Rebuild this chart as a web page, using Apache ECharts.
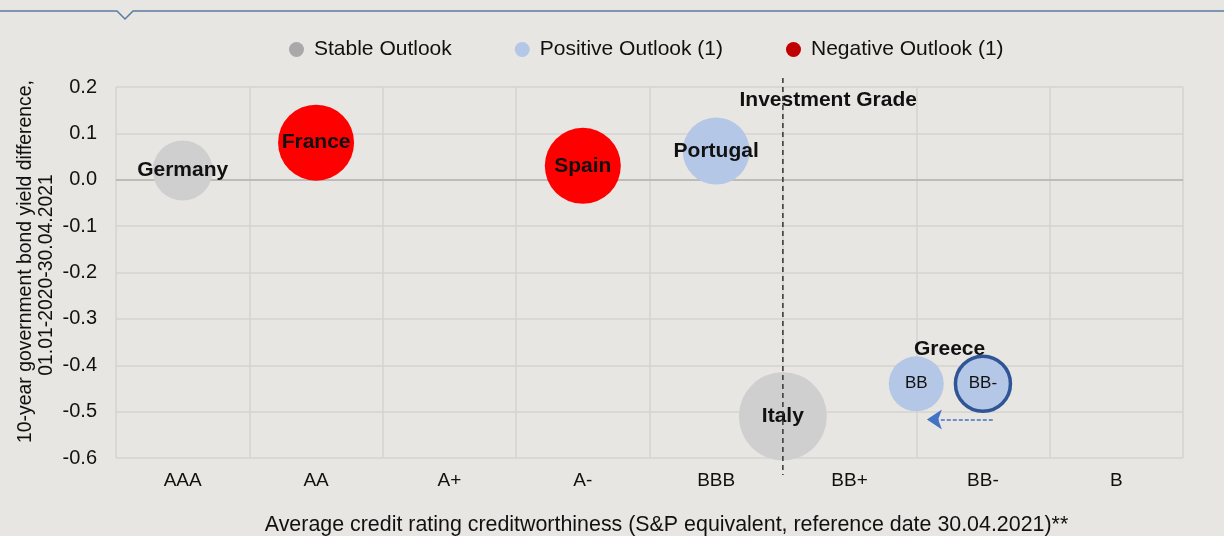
<!DOCTYPE html>
<html>
<head>
<meta charset="utf-8">
<script src="https://cdn.jsdelivr.net/npm/echarts@6/dist/echarts.min.js"></script>
<style>
html, body { margin: 0; background: #e7e6e2; }
#chart { width: 1224px; height: 536px; }
</style>
</head>
<body>
<div id="chart"></div>
<script>
// rating scale on the x axis
const ratings = ['AAA', 'AA', 'A+', 'A-', 'BBB', 'BB+', 'BB-', 'B'];

// [rating position (0 = left edge of AAA), yield difference, bubble diameter, label]
const stableData = [[0.5, 0.02, 60, 'Germany'], [5.0, -0.51, 88, 'Italy']];
const positiveData = [[4.5, 0.062, 67, 'Portugal'], [6.0, -0.44, 55, 'BB'], [6.5, -0.44, 55, 'BB-']];
const negativeData = [[1.5, 0.08, 76, 'France'], [3.5, 0.03, 76, 'Spain']];

// annotations
const gradeLine = [[5.0, 0.22], [5.0, -0.64]];
const gradeLabelAt = [5.34, 0.172];
const greeceLabelAt = [6.25, -0.366];
const greeceArrow = [[6.574, -0.517], [6.08, -0.517]];
const smallLabels = ['BB', 'BB-'];

const font = 'Liberation Sans, Arial, sans-serif';

function toItems(rows, color) {
    return rows.map((r) => {
        const small = smallLabels.includes(r[3]);
        const item = {
            value: [r[0], r[1]],
            symbolSize: r[2],
            name: r[3],
            label: {
                show: true,
                formatter: r[3],
                fontSize: small ? 17 : 21,
                fontWeight: small ? 'normal' : 'bold',
                color: '#111'
            }
        };
        if (r[3] === 'BB-') {
            item.itemStyle = { color: color, borderColor: '#2f5597', borderWidth: 3.5 };
        }
        return item;
    });
}

const chart = echarts.init(document.getElementById('chart'));
chart.setOption({
    backgroundColor: '#e7e6e2',
    textStyle: { fontFamily: font },
    graphic: [{
        type: 'polyline',
        shape: { points: [[0, 11], [117, 11], [125, 19], [133, 11], [1224, 11]] },
        style: { stroke: '#5b7ba0', lineWidth: 1.5, fill: null }
    }],
    legend: {
        top: 39,
        left: 289,
        padding: 0,
        icon: 'circle',
        itemWidth: 25,
        itemHeight: 15,
        itemGap: 63,
        textStyle: { fontSize: 21, color: '#111', fontFamily: font },
        data: [
            { name: 'Stable Outlook', itemStyle: { color: '#aaa8a8' } },
            { name: 'Positive Outlook (1)', itemStyle: { color: '#b4c7e7' } },
            { name: 'Negative Outlook (1)', itemStyle: { color: '#c00000' } }
        ]
    },
    grid: [
        { left: 116, right: 41, top: 87, bottom: 78, outerBoundsMode: 'none' },
        // taller twin grid for the investment grade divider that overshoots the plot
        { left: 116, right: 41, top: 78, bottom: 61, outerBoundsMode: 'none' }
    ],
    xAxis: [
        {
            type: 'category',
            data: ratings,
            boundaryGap: true,
            axisLine: { lineStyle: { color: '#cfcecb', width: 1.5 } },
            axisTick: { show: false },
            axisLabel: { fontSize: 19, color: '#111', margin: 13 },
            splitLine: { show: true, lineStyle: { color: '#d4d3d0', width: 1.5 } },
            name: 'Average credit rating creditworthiness (S&P equivalent, reference date 30.04.2021)**',
            nameLocation: 'middle',
            nameGap: 57,
            nameTextStyle: { fontSize: 21.4, color: '#111', padding: [0, 0, 0, 34] }
        },
        { type: 'value', min: 0, max: 8, show: false },
        { type: 'value', gridIndex: 1, min: 0, max: 8, show: false }
    ],
    yAxis: [
        {
            type: 'value',
            min: -0.6,
            max: 0.2,
            interval: 0.1,
            axisLine: { show: false },
            axisTick: { show: false },
            axisLabel: { fontSize: 20, color: '#111', margin: 19, formatter: (v) => v.toFixed(1) },
            splitLine: { lineStyle: { color: '#d4d3d0', width: 1.5 } },
            name: '10-year government bond yield difference,\n01.01-2020-30.04.2021\u00a0\u00a0\u00a0\u00a0\u00a0',
            nameLocation: 'middle',
            nameGap: 59,
            nameMoveOverlap: false,
            nameTextStyle: { fontSize: 19.4, color: '#111', lineHeight: 21, padding: [0, 0, 0, 22] }
        },
        { type: 'value', gridIndex: 1, min: -0.64, max: 0.22, show: false }
    ],
    series: [
        {
            name: 'Stable Outlook',
            type: 'scatter',
            xAxisIndex: 1,
            z: 3,
            itemStyle: { color: '#d0cfcf', opacity: 1 },
            data: toItems(stableData, '#d0cfcf')
        },
        {
            name: 'Positive Outlook (1)',
            type: 'scatter',
            xAxisIndex: 1,
            z: 3,
            itemStyle: { color: '#b4c7e7', opacity: 1 },
            data: toItems(positiveData, '#b4c7e7')
        },
        {
            name: 'Negative Outlook (1)',
            type: 'scatter',
            xAxisIndex: 1,
            z: 3,
            itemStyle: { color: '#ff0000', opacity: 1 },
            data: toItems(negativeData, '#ff0000')
        },
        {
            // zero line, sits under the bubbles
            type: 'scatter',
            xAxisIndex: 1,
            z: 1,
            data: [],
            markLine: {
                silent: true,
                z: 1,
                symbol: 'none',
                label: { show: false },
                lineStyle: { color: '#bdbcb9', width: 2, type: 'solid' },
                data: [{ yAxis: 0 }]
            }
        },
        {
            // investment grade divider
            type: 'line',
            xAxisIndex: 2,
            yAxisIndex: 1,
            z: 10,
            silent: true,
            symbol: 'none',
            lineStyle: { color: '#333', width: 1.5, type: [5, 4] },
            data: gradeLine
        },
        {
            // Greece arrow and text notes
            type: 'scatter',
            xAxisIndex: 1,
            z: 10,
            data: [],
            markLine: {
                silent: true,
                symbol: 'none',
                label: { show: false },
                data: [
                    [
                        { coord: greeceArrow[0], symbol: 'none', lineStyle: { color: '#4472c4', width: 1.5, type: [4, 2] } },
                        { coord: greeceArrow[1], symbol: 'arrow', symbolSize: 15 }
                    ]
                ]
            },
            markPoint: {
                silent: true,
                symbolSize: 0,
                label: { show: true, fontSize: 21, fontWeight: 'bold', color: '#111', position: 'inside' },
                data: [
                    { coord: gradeLabelAt, value: 'Investment Grade', label: { formatter: 'Investment Grade' } },
                    { coord: greeceLabelAt, value: 'Greece', label: { formatter: 'Greece' } }
                ]
            }
        }
    ]
});
</script>
</body>
</html>
